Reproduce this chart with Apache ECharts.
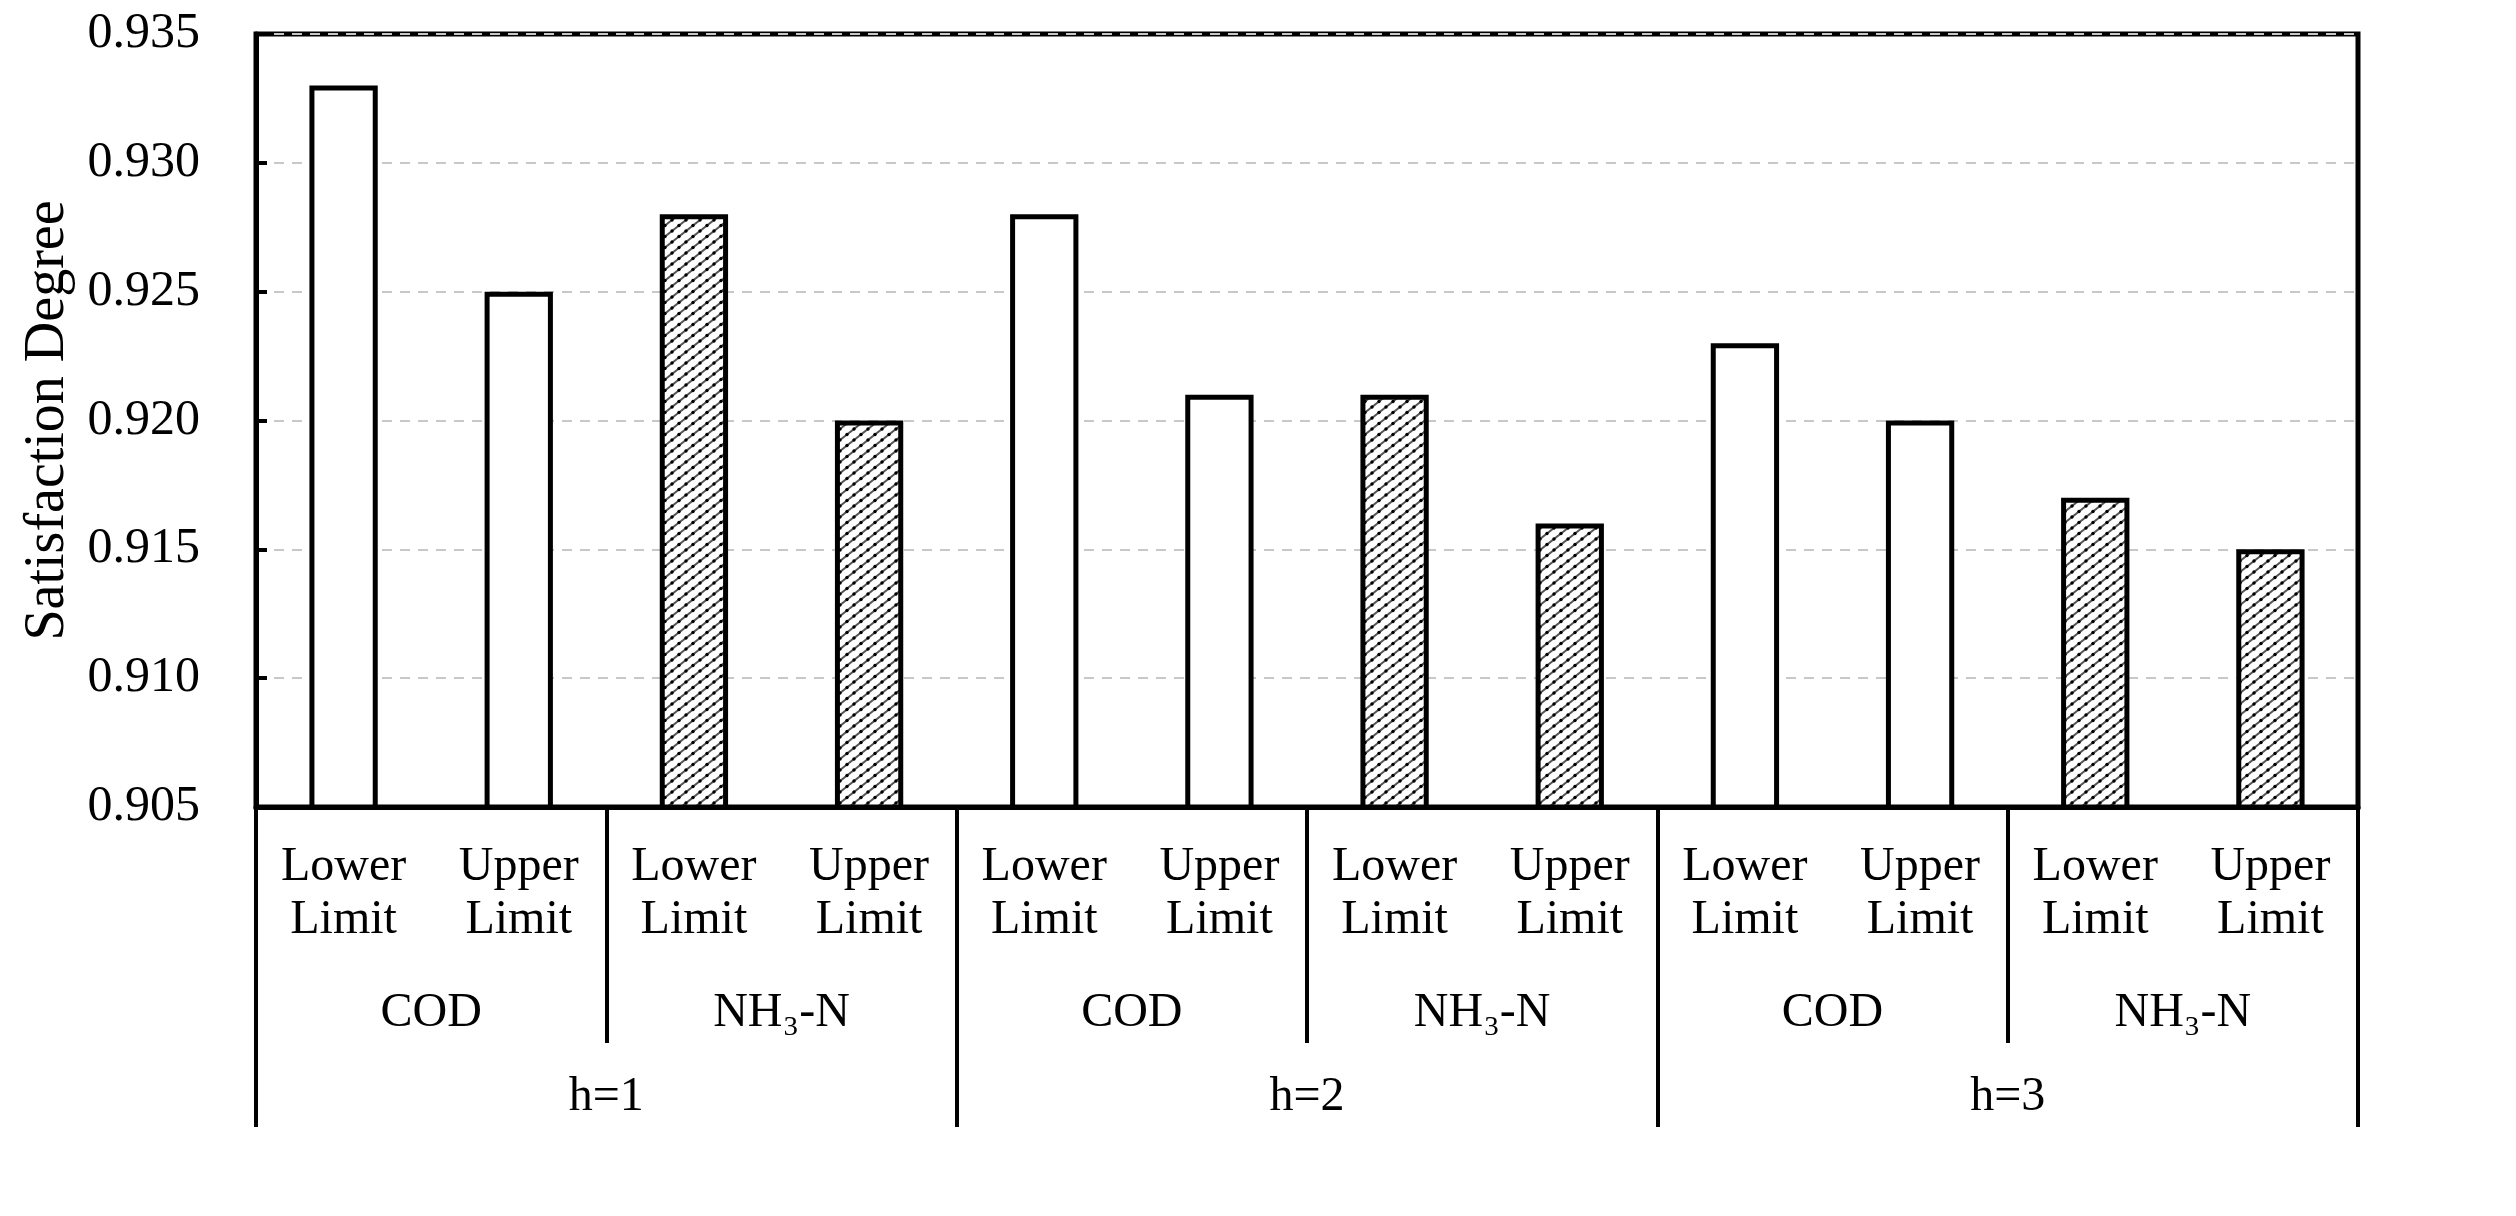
<!DOCTYPE html>
<html>
<head>
<meta charset="utf-8">
<script src="https://cdn.jsdelivr.net/npm/echarts@6/dist/echarts.min.js"></script>
<style>
html,body{margin:0;padding:0;background:#fff;}
#chart{width:2516px;height:1216px;}
</style>
</head>
<body>
<div id="chart"></div>
<script>
// ---- data ----
const subCategories = ['Lower\nLimit','Upper\nLimit','Lower\nLimit','Upper\nLimit','Lower\nLimit','Upper\nLimit','Lower\nLimit','Upper\nLimit','Lower\nLimit','Upper\nLimit','Lower\nLimit','Upper\nLimit'];
const pollutants = ['COD','NH₃-N','COD','NH₃-N','COD','NH₃-N'];
const horizons = ['h=1','h=2','h=3'];
const values = [0.933,0.925,0.928,0.920,0.928,0.921,0.921,0.916,0.923,0.920,0.917,0.915];
const barPollutant = ['COD','COD','NH₃-N','NH₃-N','COD','COD','NH₃-N','NH₃-N','COD','COD','NH₃-N','NH₃-N'];
const yTicks = [0.905,0.910,0.915,0.920,0.925,0.930,0.935];

const FONT = '"Liberation Serif", "Times New Roman", serif';

// hatch pattern ("/" dotted diagonals)
function makeHatch(){
  const w = 14, h = 11;
  const c = document.createElement('canvas');
  c.width = w; c.height = h;
  const g = c.getContext('2d');
  g.fillStyle = '#fff'; g.fillRect(0,0,w,h);
  g.strokeStyle = '#555';
  g.lineWidth = 2;
  g.beginPath();
  g.moveTo(-w, 2*h); g.lineTo(2*w, -h);      // through (0,h),(w,0)
  g.moveTo(-w, h); g.lineTo(w, -h);          // through (0,0)
  g.moveTo(0, 2*h); g.lineTo(2*w, 0);        // through (w,h)
  g.stroke();
  g.fillStyle = '#000';
  [[w/2,h/2],[0,0],[w,0],[0,h],[w,h]].forEach(p => {
    g.beginPath(); g.arc(p[0], p[1], 1.7, 0, Math.PI*2); g.fill();
  });
  return c;
}
const hatch = makeHatch();

const chart = echarts.init(document.getElementById('chart'), null, {renderer:'canvas'});
const labelStyle = {fontFamily: FONT, fontSize: 48, color: '#000'};

chart.setOption({
  backgroundColor: '#fff',
  animation: false,
  grid: {
    left: 256, right: 158, top: 34, bottom: 409,
    show: true, borderColor: '#000', borderWidth: 5, backgroundColor: 'transparent'
  },
  xAxis: [
    {
      type: 'category', data: subCategories, position: 'bottom',
      axisLine: {show: true, lineStyle: {color: '#000', width: 5}},
      axisTick: {show: false},
      axisLabel: Object.assign({interval: 0, margin: 34, lineHeight: 53}, labelStyle),
      splitLine: {show: false}
    },
    {
      type: 'category', data: pollutants, position: 'bottom',
      axisLine: {show: false},
      axisTick: {show: true, length: 236, lineStyle: {color: '#000', width: 4}},
      axisLabel: Object.assign({interval: 0, margin: 180, lineHeight: 53}, labelStyle),
      splitLine: {show: false}
    },
    {
      type: 'category', data: horizons, position: 'bottom',
      axisLine: {show: false},
      axisTick: {show: true, length: 320, lineStyle: {color: '#000', width: 4}},
      axisLabel: Object.assign({interval: 0, margin: 264, lineHeight: 53}, labelStyle),
      splitLine: {show: false}
    }
  ],
  yAxis: {
    type: 'value', min: yTicks[0], max: yTicks[yTicks.length-1], interval: 0.005,
    name: 'Satisfaction Degree', nameLocation: 'middle', nameGap: 180,
    nameTextStyle: {fontFamily: FONT, fontSize: 56, color: '#000'},
    axisLine: {show: true, lineStyle: {color: '#000', width: 5}},
    axisTick: {show: true, inside: true, length: 11, lineStyle: {color: '#000', width: 4}},
    axisLabel: Object.assign({margin: 56, formatter: v => v.toFixed(3)}, labelStyle, {fontSize: 50}),
    splitLine: {show: true, lineStyle: {color: '#c8c8c8', width: 2, type: [10, 8]}}
  },
  series: [{
    type: 'bar',
    xAxisIndex: 0,
    barWidth: '39%',
    data: values.map((v, i) => ({
      value: v,
      itemStyle: {
        color: barPollutant[i] === 'COD' ? '#fff' : {image: hatch, repeat: 'repeat'},
        borderColor: '#000', borderWidth: 5
      }
    })),
    label: {show: false}
  }]
});
</script>
</body>
</html>
